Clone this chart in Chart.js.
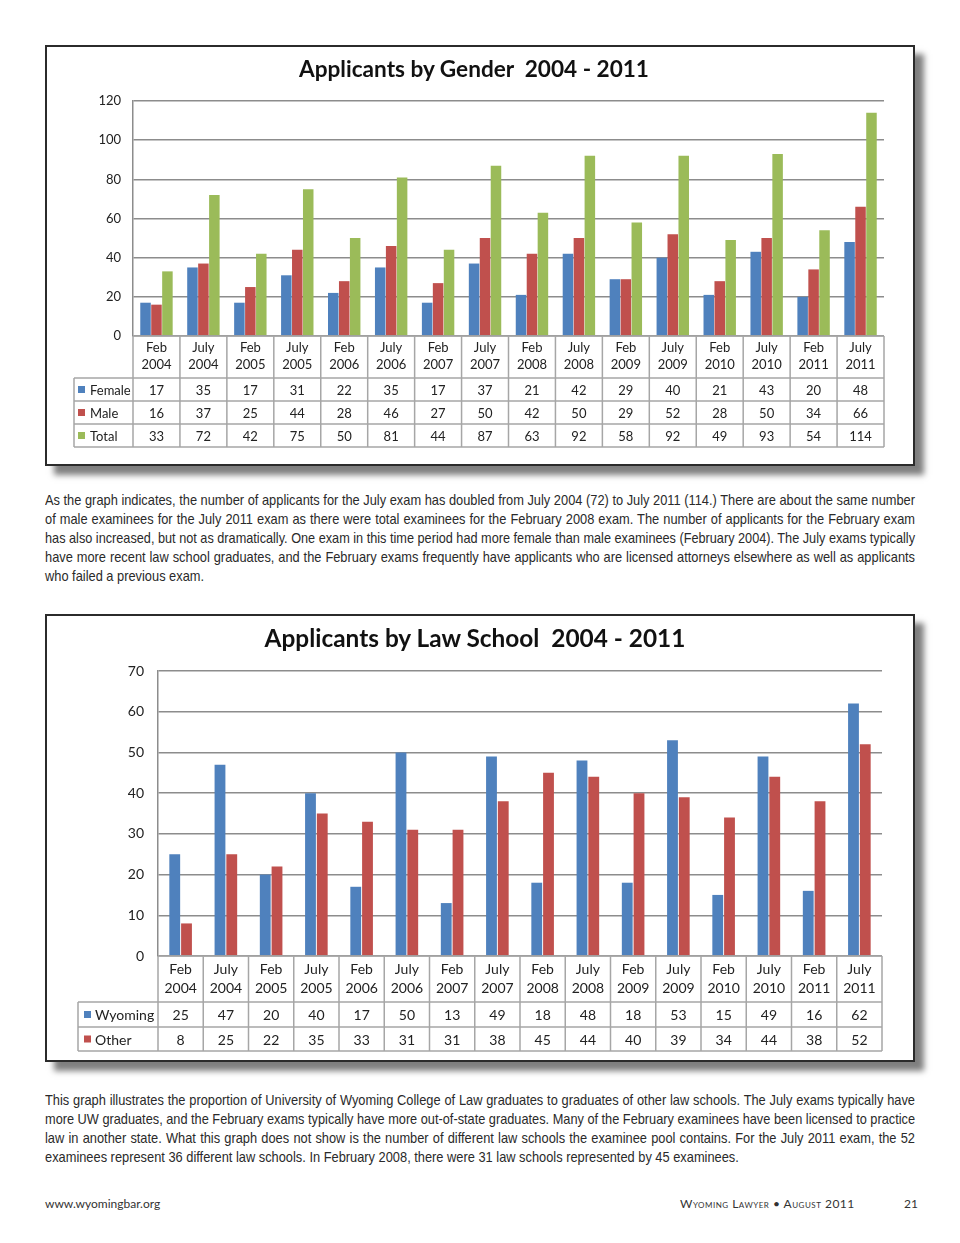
<!DOCTYPE html>
<html>
<head>
<meta charset="utf-8">
<script src="https://cdn.jsdelivr.net/npm/chart.js@4.4.1/dist/chart.umd.min.js"></script>
<style>
  body { margin: 0; background: #fff; }
  #page { position: relative; width: 960px; height: 1243px; overflow: hidden; background: #fff; }
  .box { position: absolute; left: 45px; width: 870px; background: #fff; border: 2px solid #2b2b2b;
         box-shadow: 9px 9px 6px rgba(0,0,0,0.5); box-sizing: border-box; }
  .box canvas { position: absolute; left: 0; top: 0; }
  .title { position: absolute; left: 0; width: 100%; text-align: center; font-family: Lato, sans-serif;
           font-weight: bold; color: #111; z-index: 2; }
  .para { position: absolute; left: 45px; width: 870px; font-family: "Liberation Sans", Arial, sans-serif;
          font-size: 14.5px; line-height: 19px; color: #2a2a2a; }
  .para div { white-space: nowrap; height: 19px; }
  .para span { display: inline-block; white-space: pre; transform-origin: 0 0; }
  .foot { position: absolute; top: 1196px; font-family: Lato, sans-serif; font-size: 12px; color: #333; }
</style>
</head>
<body>
<div id="page">
  <div class="box" style="top:45px;height:421px;">
    <div class="title" style="top:9px;left:-6px;font-size:22.6px;line-height:26px;">Applicants by Gender&nbsp; 2004 - 2011</div>
    <canvas id="genderChart" width="866" height="417"></canvas>
  </div>

  <div class="para" style="top:491px;">
    <div><span>As the graph indicates, the number of applicants for the July exam has doubled from July 2004 (72) to July 2011 (114.) There are about the same number</span></div>
    <div><span>of male examinees for the July 2011 exam as there were total examinees for the February 2008 exam. The number of applicants for the February exam</span></div>
    <div><span>has also increased, but not as dramatically. One exam in this time period had more female than male examinees (February 2004). The July exams typically</span></div>
    <div><span>have more recent law school graduates, and the February exams frequently have applicants who are licensed attorneys elsewhere as well as applicants</span></div>
    <div class="last"><span>who failed a previous exam.</span></div>
  </div>

  <div class="box" style="top:614px;height:448px;">
    <div class="title" style="top:8px;left:-5px;font-size:24.4px;line-height:28px;">Applicants by Law School&nbsp; 2004 - 2011</div>
    <canvas id="schoolChart" width="866" height="444"></canvas>
  </div>

  <div class="para" style="top:1091px;">
    <div><span>This graph illustrates the proportion of University of Wyoming College of Law graduates to graduates of other law schools. The July exams typically have</span></div>
    <div><span>more UW graduates, and the February exams typically have more out-of-state graduates. Many of the February examinees have been licensed to practice</span></div>
    <div><span>law in another state. What this graph does not show is the number of different law schools the examinee pool contains. For the July 2011 exam, the 52</span></div>
    <div class="last"><span>examinees represent 36 different law schools. In February 2008, there were 31 law schools represented by 45 examinees.</span></div>
  </div>

  <div class="foot" style="left:45px;">www.wyomingbar.org</div>
  <div class="foot" style="left:680px;font-variant:small-caps;letter-spacing:0.5px;">Wyoming Lawyer &bull; August 2011</div>
  <div class="foot" style="left:904px;">21</div>
</div>

<script>
const exams = ['Feb 2004', 'July 2004', 'Feb 2005', 'July 2005', 'Feb 2006', 'July 2006', 'Feb 2007', 'July 2007',
               'Feb 2008', 'July 2008', 'Feb 2009', 'July 2009', 'Feb 2010', 'July 2010', 'Feb 2011', 'July 2011'];

const female = [17, 35, 17, 31, 22, 35, 17, 37, 21, 42, 29, 40, 21, 43, 20, 48];
const male   = [16, 37, 25, 44, 28, 46, 27, 50, 42, 50, 29, 52, 28, 50, 34, 66];
const total  = [33, 72, 42, 75, 50, 81, 44, 87, 63, 92, 58, 92, 49, 93, 54, 114];
const genderTicks = [0, 20, 40, 60, 80, 100, 120];

const wyoming = [25, 47, 20, 40, 17, 50, 13, 49, 18, 48, 18, 53, 15, 49, 16, 62];
const other   = [8, 25, 22, 35, 33, 31, 31, 38, 45, 44, 40, 39, 34, 44, 38, 52];
const schoolTicks = [0, 10, 20, 30, 40, 50, 60, 70];

const BLUE = '#4f81bd', RED = '#c0504d', GREEN = '#9bbb59';

// no narrow font installed: squeeze each printed line and justify it by hand
const SQUEEZE = 0.885;
document.querySelectorAll('.para div').forEach(d => {
  const span = d.firstElementChild;
  const w = span.getBoundingClientRect().width;
  const spaces = (span.textContent.match(/ /g) || []).length;
  let k = SQUEEZE;
  if (!d.classList.contains('last')) {
    if (w * k > 870) k = 870 / w;
    else span.style.wordSpacing = ((870 / k - w) / spaces) + 'px';
  }
  span.style.transform = 'scaleX(' + k + ')';
});

// draws the Excel-style data table under the plot, aligned to the x scale
const tablePlugin = {
  id: 'dataTable',
  afterDraw(chart, args, o) {
    const { ctx, chartArea: a, scales: { x } } = chart;
    const cats = chart.data.labels;
    const half = (a.right - a.left) / cats.length / 2;
    const top = a.bottom;
    const rowY = [top + o.headerHeight];
    o.rowHeights.forEach(h => rowY.push(rowY[rowY.length - 1] + h));
    const bottom = rowY[rowY.length - 1];

    ctx.save();
    ctx.strokeStyle = o.lineColor;
    ctx.lineWidth = o.lineWidth;
    ctx.beginPath();
    ctx.moveTo(a.left, top); ctx.lineTo(a.right, top);
    rowY.forEach(y => { ctx.moveTo(o.legendLeft, y); ctx.lineTo(a.right, y); });
    ctx.moveTo(o.legendLeft, rowY[0]); ctx.lineTo(o.legendLeft, bottom);
    for (let i = 0; i <= cats.length; i++) {
      const px = i < cats.length ? x.getPixelForValue(i) - half : x.getPixelForValue(i - 1) + half;
      ctx.moveTo(px, top); ctx.lineTo(px, bottom);
    }
    ctx.stroke();

    ctx.fillStyle = o.color;
    ctx.font = o.font;
    ctx.textAlign = 'center';
    ctx.textBaseline = 'middle';
    cats.forEach((c, i) => {
      const px = x.getPixelForValue(i);
      const parts = c.split(' ');
      ctx.fillText(parts[0], px, top + o.line1);
      ctx.fillText(parts[1], px, top + o.line2);
      chart.data.datasets.forEach((ds, r) => {
        ctx.fillText(String(ds.data[i]), px, (rowY[r] + rowY[r + 1]) / 2 + 1);
      });
    });

    ctx.textAlign = 'left';
    chart.data.datasets.forEach((ds, r) => {
      const cy = (rowY[r] + rowY[r + 1]) / 2;
      ctx.fillStyle = ds.backgroundColor;
      ctx.fillRect(o.legendLeft + o.swatchX, cy - o.swatch / 2, o.swatch, o.swatch);
      ctx.fillStyle = o.color;
      ctx.fillText(ds.label, o.legendLeft + o.textX, cy + 1);
    });
    ctx.restore();
  }
};

function yAxis(ticks, width, fontSize, pad) {
  return {
    min: ticks[0],
    max: ticks[ticks.length - 1],
    afterFit: s => { s.width = width; },
    afterBuildTicks: s => { s.ticks = ticks.map(v => ({ value: v })); },
    grid: { color: '#8c8c8c', lineWidth: 1.5, drawTicks: false },
    border: { display: true, color: '#8c8c8c', width: 1.5 },
    ticks: { padding: pad, color: '#222', font: { family: 'Lato', size: fontSize } }
  };
}

new Chart(document.getElementById('genderChart'), {
  type: 'bar',
  data: {
    labels: exams,
    datasets: [
      { label: 'Female', data: female, backgroundColor: BLUE },
      { label: 'Male', data: male, backgroundColor: RED },
      { label: 'Total', data: total, backgroundColor: GREEN }
    ]
  },
  options: {
    responsive: false,
    devicePixelRatio: 1,
    animation: false,
    layout: { padding: { left: 0, right: 29, top: 54, bottom: 128 } },
    datasets: { bar: { categoryPercentage: 0.7, barPercentage: 0.96 } },
    scales: {
      x: { display: false },
      y: yAxis(genderTicks, 86, 13, 12)
    },
    plugins: {
      legend: { display: false },
      tooltip: { enabled: false },
      dataTable: {
        legendLeft: 27, headerHeight: 42, rowHeights: [23, 23, 23], line1: 12, line2: 29,
        lineColor: '#a6a6a6', lineWidth: 1.5, color: '#222', font: '13px Lato',
        swatch: 7, swatchX: 4, textX: 16
      }
    }
  },
  plugins: [tablePlugin]
});

new Chart(document.getElementById('schoolChart'), {
  type: 'bar',
  data: {
    labels: exams,
    datasets: [
      { label: 'Wyoming', data: wyoming, backgroundColor: BLUE },
      { label: 'Other', data: other, backgroundColor: RED }
    ]
  },
  options: {
    responsive: false,
    devicePixelRatio: 1,
    animation: false,
    layout: { padding: { left: 0, right: 31, top: 55, bottom: 104 } },
    datasets: { bar: { categoryPercentage: 0.52, barPercentage: 0.92 } },
    scales: {
      x: { display: false },
      y: yAxis(schoolTicks, 111, 14, 14)
    },
    plugins: {
      legend: { display: false },
      tooltip: { enabled: false },
      dataTable: {
        legendLeft: 31, headerHeight: 46, rowHeights: [25, 24], line1: 13, line2: 32,
        lineColor: '#a6a6a6', lineWidth: 1.5, color: '#222', font: '14px Lato',
        swatch: 7, swatchX: 6, textX: 17
      }
    }
  },
  plugins: [tablePlugin]
});
</script>
</body>
</html>
